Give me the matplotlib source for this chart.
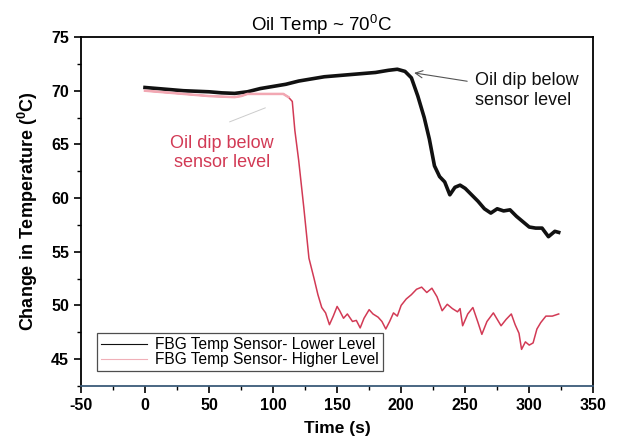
import matplotlib
matplotlib.use("Agg")
import matplotlib.pyplot as plt
from matplotlib.ticker import MultipleLocator

plt.rcParams['font.family'] = ['Liberation Sans', 'DejaVu Sans']
plt.rcParams['mathtext.fontset'] = 'custom'
plt.rcParams['mathtext.rm'] = 'Liberation Sans'
plt.rcParams['mathtext.bf'] = 'Liberation Sans:bold'
plt.rcParams['axes.unicode_minus'] = False

# === Data ===
t_lower = [0, 10, 20, 30, 40, 50, 60, 70, 80, 90,
           100, 110, 120, 130, 140, 150, 160, 170, 180, 190,
           197, 203, 208, 213, 218, 222, 226, 230, 234, 238,
           242, 246, 250, 255, 260, 265, 270, 275, 280, 285,
           290, 295, 300, 305, 310, 315, 320, 323]
temp_lower = [70.3, 70.2, 70.1, 70.0, 69.95, 69.9, 69.8, 69.75, 69.9, 70.2,
              70.4, 70.6, 70.9, 71.1, 71.3, 71.4, 71.5, 71.6, 71.7, 71.9,
              72.0, 71.8, 71.2, 69.5, 67.5, 65.5, 63.0, 62.0, 61.5, 60.3,
              61.0, 61.2, 60.9, 60.3, 59.7, 59.0, 58.6, 59.0, 58.8, 58.9,
              58.3, 57.8, 57.3, 57.2, 57.2, 56.4, 56.9, 56.8]

t_higher = [0, 10, 20, 30, 40, 50, 60, 70, 75, 80,
            90, 100, 108, 112, 115, 117, 120, 124, 128, 132,
            135, 138, 141, 144, 147, 150, 152, 155, 158, 162,
            165, 168, 171, 175, 178, 182, 185, 188, 191, 194,
            197, 200, 204, 208, 212, 216, 220, 224, 228, 232,
            236, 240, 244, 246, 248, 252, 256, 260, 263, 267,
            272, 275, 278, 282, 286, 289, 292, 294, 297, 300,
            303, 306, 309, 313, 318, 323]
temp_higher = [70.0, 69.9, 69.8, 69.7, 69.6, 69.5, 69.45, 69.4, 69.5, 69.7,
               69.7, 69.7, 69.7, 69.4, 69.0, 66.3, 63.5, 59.1, 54.4, 52.5,
               51.0, 49.8, 49.3, 48.2, 49.0, 49.9, 49.5, 48.8, 49.2, 48.5,
               48.6, 47.9, 48.8, 49.6, 49.2, 48.9, 48.5, 47.8, 48.5, 49.3,
               49.0, 50.0, 50.6, 51.0, 51.5, 51.7, 51.2, 51.6, 50.8, 49.5,
               50.1, 49.7, 49.4, 49.7, 48.1, 49.2, 49.8, 48.4, 47.3, 48.5,
               49.3, 48.7, 48.1, 48.7, 49.2, 48.2, 47.4, 45.9, 46.6, 46.3,
               46.5, 47.8, 48.4, 49.0, 49.0, 49.2]

red = '#d23a55'

# === Plot ===
fig = plt.figure(figsize=(6.18, 4.41), dpi=100)
ax = fig.add_axes([0.131, 0.125, 0.829, 0.791])

ax.plot(t_lower, temp_lower, color='#111111', lw=2.6,
        label='FBG Temp Sensor- Lower Level')
ax.plot(t_higher, temp_higher, color=red, lw=1.1,
        label='FBG Temp Sensor- Higher Level')
# the flat start of the upper sensor trace is a pale pink in the scan
ax.plot(t_higher[:14], temp_higher[:14], color='#f2a8b3', lw=1.8)

ax.set_xlim(-50, 350)
ax.set_ylim(42.5, 75)
ax.xaxis.set_major_locator(MultipleLocator(50))
ax.xaxis.set_minor_locator(MultipleLocator(25))
ax.yaxis.set_major_locator(MultipleLocator(5))
ax.yaxis.set_minor_locator(MultipleLocator(2.5))
ax.tick_params(which='major', direction='out', length=5, width=1.2,
               labelsize=11.5)
ax.tick_params(which='minor', direction='out', length=3, width=1)
for lbl in ax.get_xticklabels() + ax.get_yticklabels():
    lbl.set_fontweight('bold')
for s in ax.spines.values():
    s.set_linewidth(1.3)
ax.spines['bottom'].set_color('#3a5a78')

ax.set_xlabel('Time (s)', fontsize=12.5, fontweight='bold', labelpad=6)
ax.set_ylabel(r'Change in Temperature ($\mathbf{^0}$C)', fontsize=13,
              fontweight='bold', labelpad=8)
ax.set_title(r'Oil Temp ~ 70$^0$C', fontsize=13.5, pad=4, x=0.47)

# annotations
ax.annotate('Oil dip below\nsensor level', xy=(208, 71.7), xytext=(258, 70.0),
            fontsize=13, color='#111111', ha='left', va='center',
            arrowprops=dict(arrowstyle='->', color='#555555', lw=0.8,
                            shrinkA=4, shrinkB=2))
ax.text(60, 64.2, 'Oil dip below\nsensor level', fontsize=13, color=red,
        ha='center', va='center')
ax.annotate('', xy=(96, 68.5), xytext=(64, 67.0),
            arrowprops=dict(arrowstyle='-', color='#cccccc', lw=0.7))

leg = ax.legend(loc='lower left', bbox_to_anchor=(0.031, 0.043),
                borderaxespad=0, fontsize=11.2, frameon=True, fancybox=False,
                handlelength=3.0, borderpad=0.25, labelspacing=0.0,
                handletextpad=0.5)
leg.get_frame().set_edgecolor('#222222')
leg.get_frame().set_linewidth(0.9)
leg.legend_handles[0].set_linewidth(0.8)
leg.legend_handles[1].set_linewidth(0.8)
leg.legend_handles[1].set_color('#f0b0b8')

fig.savefig('out.png', dpi=100)
